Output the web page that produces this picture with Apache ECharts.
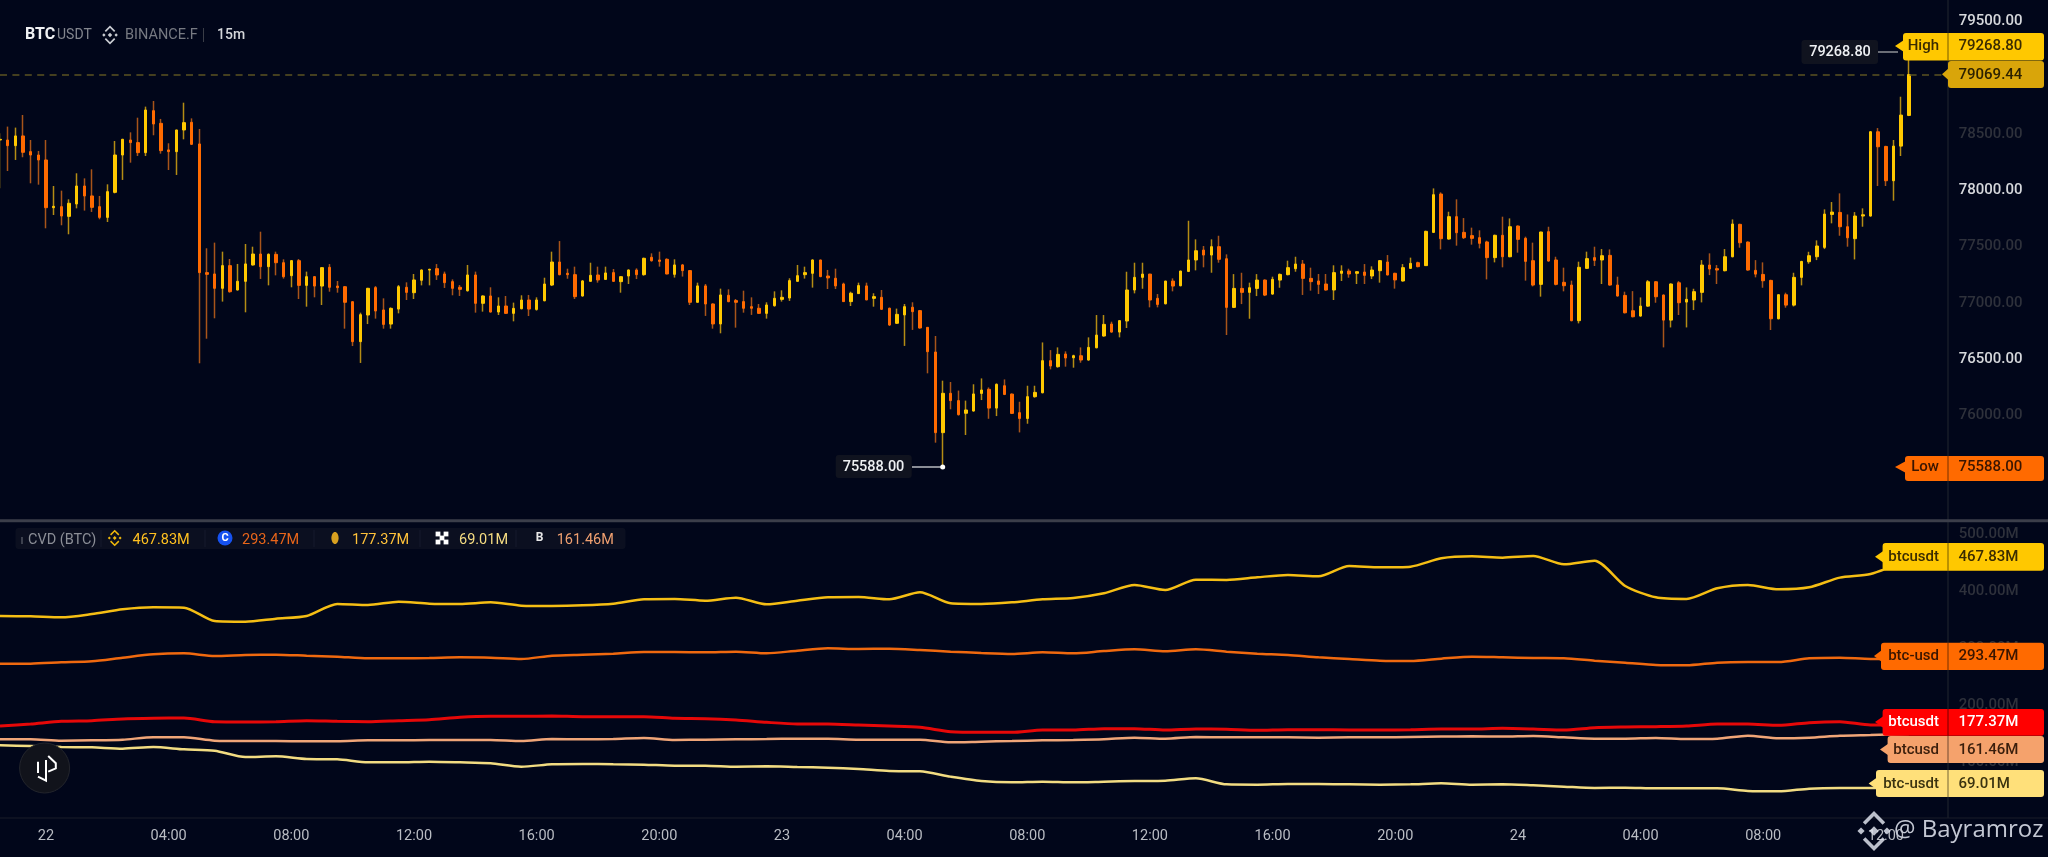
<!DOCTYPE html>
<html><head><meta charset="utf-8">
<style>html,body{margin:0;padding:0;background:#01061a}#c{width:2048px;height:857px}</style>
<script src="https://cdn.jsdelivr.net/npm/echarts@6/dist/echarts.min.js"></script>
</head><body><div id="c"></div>
<script>
const opens=[
78489,78489,78439,78525,78386,78356,78312,77889,77898,77812,
77922,78081,77993,77898,77803,78025,78356,78489,78466,78377,
78749,78637,78401,78386,78578,78646,78454,77313,77301,77174,
77375,77159,77236,77381,77478,77366,77475,77401,77286,77419,
77200,77277,77194,77360,77194,77188,77055,76701,76937,77180,
76982,76857,76990,77183,77135,77245,77336,77348,77301,77233,
77183,77153,77292,77041,77106,76964,77017,76952,76993,77070,
76987,77064,77203,77407,77307,77295,77106,77236,77292,77253,
77313,77233,77283,77336,77295,77449,77425,77431,77298,77381,
77331,77050,77195,77035,76858,77112,77065,77056,77011,76997,
76952,77020,77076,77088,77236,77295,77307,77425,77283,77263,
77212,77056,77127,77195,77085,77094,76997,76864,76938,77006,
76976,76828,76609,75894,76243,76178,76066,76086,76242,76278,
76112,76310,76236,76071,76020,76213,76248,76532,76479,76591,
76558,76576,76538,76647,76751,76857,76786,76884,77159,77271,
77300,77085,77037,77238,77197,77324,77425,77513,77469,77543,
77436,77005,77173,77138,77173,77247,77123,77247,77295,77348,
77389,77262,77239,77212,77159,77307,77327,77307,77318,77283,
77330,77407,77307,77239,77351,77401,77375,77670,78010,77611,
77809,77670,77641,77623,77585,77446,77644,77454,77726,77617,
77419,77209,77676,77425,77227,77203,76887,77351,77446,77425,
77466,77203,77111,76975,76928,77016,77232,77114,76892,77223,
77052,77070,77138,77380,77348,77330,77454,77741,77584,77333,
77297,77244,76904,77117,77025,77271,77410,77454,77537,77829,
77847,77720,77614,77815,77815,78562,78432,78128,78435,78707];
const closes=[
78495,78439,78525,78380,78356,78312,77889,77901,77815,77928,
78081,77993,77892,77803,78031,78356,78495,78466,78377,78755,
78631,78395,78386,78578,78643,78451,77313,77298,77174,77375,
77144,77236,77390,77478,77366,77475,77401,77277,77419,77200,
77277,77194,77357,77183,77180,77050,76701,76940,77174,76973,
76854,76996,77188,77138,77248,77336,77342,77292,77224,77174,
77165,77292,77041,77106,76964,77017,76952,76996,77070,76990,
77070,77212,77407,77295,77295,77100,77239,77289,77248,77310,
77236,77277,77336,77295,77440,77419,77413,77301,77381,77331,
77050,77195,77035,76858,77115,77056,77050,76997,76997,76952,
77026,77085,77094,77242,77286,77313,77425,77278,77266,77195,
77056,77130,77198,77071,77100,76988,76849,76943,77011,76967,
76822,76612,75894,76243,76178,76054,76095,76237,76272,76112,
76322,76233,76065,76020,76213,76251,76532,76485,76588,76556,
76576,76538,76650,76759,76854,76786,76887,77159,77271,77300,
77070,77031,77238,77194,77327,77425,77507,77469,77543,77431,
77005,77173,77138,77179,77247,77114,77253,77297,77357,77389,
77262,77233,77209,77159,77313,77327,77301,77321,77289,77336,
77419,77292,77248,77357,77395,77366,77679,78004,77614,77809,
77667,77623,77617,77573,77446,77644,77454,77720,77608,77413,
77203,77673,77416,77209,77197,76887,77360,77437,77422,77463,
77203,77106,76957,76922,77016,77232,77099,76892,77212,77046,
77076,77144,77380,77345,77336,77454,77744,77578,77336,77300,
77241,76904,77117,77025,77271,77412,77463,77549,77832,77850,
77720,77622,77815,77826,78562,78429,78128,78435,78710,79069.44];
const lows=[
78061,78214,78312,78336,78105,78093,77706,77824,77733,77653,
77883,77863,77851,77786,77762,78016,78135,78288,78347,78347,
78531,78368,78223,78179,78495,78445,76509,76727,76908,77056,
77135,77155,76961,77375,77257,77200,77289,77260,77183,77079,
77011,77094,77026,77144,77135,76816,76662,76512,76857,76905,
76816,76816,76952,77070,77079,77200,77200,77248,77177,77112,
77106,77144,76958,76967,76958,76937,76946,76881,76987,76928,
76976,77058,77194,77289,77259,77079,77100,77233,77224,77250,
77230,77135,77212,77256,77286,77410,77366,77298,77269,77278,
77026,77048,76929,76816,76775,77050,76825,76958,76938,76946,
76905,77011,77056,77062,77233,77260,77180,77272,77168,77168,
77053,77017,77124,77068,77011,76982,76840,76858,76663,76805,
76816,76420,75805,75588,76101,76045,75873,76080,76183,76017,
76041,76227,76059,75896,75973,76204,76242,76455,76470,76479,
76470,76514,76532,76641,76745,76780,76739,76822,77129,77170,
77005,77005,77031,77147,77191,77318,77333,77360,77312,77401,
76760,76999,77034,76904,77105,77105,77117,77179,77289,77321,
77115,77153,77123,77153,77070,77239,77268,77212,77212,77256,
77224,77289,77171,77233,77345,77360,77372,77664,77519,77605,
77552,77611,77561,77528,77253,77404,77360,77449,77490,77242,
77191,77100,77410,77200,77147,76881,76863,77345,77372,77212,
77197,77100,76951,76916,76922,77010,77046,76650,76827,76937,
76827,76981,77049,77291,77212,77324,77448,77534,77330,77271,
77179,76804,76898,77002,77013,77200,77392,77424,77522,77750,
77640,77543,77430,77720,77809,78081,78081,77951,78347,78701];
const highs=[
78548,78608,78599,78711,78489,78392,78489,78081,78040,77963,
78194,78149,78229,77993,78096,78480,78500,78557,78687,78785,
78835,78676,78460,78580,78820,78681,78587,77529,77579,77499,
77434,77390,77567,77543,77676,77484,77499,77431,77425,77434,
77322,77283,77360,77389,77239,77194,77060,76958,77178,77194,
77085,77005,77203,77227,77301,77342,77348,77389,77322,77253,
77203,77381,77322,77112,77183,77094,77106,77047,77112,77115,
77094,77268,77499,77593,77348,77366,77248,77401,77366,77366,
77345,77280,77342,77351,77446,77484,77499,77440,77431,77390,
77335,77224,77212,77041,77171,77165,77079,77153,77094,77035,
77050,77147,77156,77263,77381,77366,77431,77428,77337,77348,
77224,77144,77224,77224,77130,77159,77003,76994,77035,77050,
76982,76830,76751,76355,76343,76267,76178,76323,76375,76295,
76331,76366,76242,76168,76310,76310,76694,76626,76650,76615,
76585,76650,76739,76937,76937,76878,76892,77321,77401,77401,
77303,77123,77241,77262,77330,77773,77608,77549,77608,77640,
77475,77300,77312,77224,77300,77253,77277,77306,77419,77454,
77425,77357,77301,77301,77378,77378,77348,77325,77389,77369,
77425,77469,77312,77389,77446,77410,77685,78060,78025,77853,
77963,77797,77712,77688,77596,77650,77809,77794,77732,77632,
77579,77676,77720,77454,77357,77242,77410,77499,77543,77522,
77519,77277,77144,77149,77093,77247,77238,77120,77218,77238,
77182,77170,77424,77484,77380,77522,77785,77747,77590,77424,
77404,77250,77120,77135,77312,77418,77498,77599,77874,77939,
78016,77829,77850,77883,78568,78595,78438,78489,78873,79268.8];

const cvdSampleIndex=[0,4,8,12,16,20,24,28,32,36,40,44,48,52,56,60,64,68,72,76,80,84,88,92,96,100,104,108,112,116,120,124,128,132,136,140,144,148,152,156,160,164,168,172,176,180,184,188,192,196,200,204,208,212,216,220,224,228,232,236,240,244,249];
const cvdBtcusdtBinance=[368.4,367.8,366.1,371.9,380.1,383.6,383.1,359.7,358.5,363.8,368.4,389.5,387.7,393.6,390.1,389.5,392.4,386.6,386,387.1,390.1,397.7,398.3,395.3,400.6,388.9,395.3,401.2,401.8,397.7,410,390.7,389.5,392.4,397.7,400,408.2,422.8,414,432.2,431.6,436.3,440.4,438,456.2,453.8,455,469.6,473.1,470.8,473.7,459,465.5,421.1,401.2,398.3,417,422.8,415.2,418.7,435.7,442.1,467.83];
const cvdBtcUsdCoinbase=[284.8,284.8,287.1,288.9,295.3,301.2,302.9,298.3,300,300.6,298.8,297.1,294.2,294.2,294.7,295.9,295.3,293,298.8,300.6,302.4,305.3,305.3,304.7,305.9,302.9,307.6,311.7,310.5,311.1,308.8,305.9,303.5,301.8,304.7,302.9,307,310,306.4,310,305.9,302.4,300,295.9,293,290.1,289.5,293.6,297.1,295.9,294.7,294.2,290.1,286.6,282.5,281.9,286.6,287.7,287.7,294.2,295.3,293,293.47];
const cvdBtcusdtBybit=[175.4,179,183.6,184.8,187.7,188.9,189.5,183,182.5,183,184.8,183.6,183,184.8,186.6,190.7,192.4,192.4,193,191.8,191.8,191.8,188.9,188.3,186,181.9,179,179,177.2,175.4,173.1,165.5,164.3,164.3,168.4,168.4,170.8,170.8,168.4,170.2,169.6,167.8,169,169,168.4,168.4,169,170.2,170.2,171.4,170.2,168.4,172.5,173.7,174.3,175.4,179,179,176.6,181.3,183,177.2,177.37];
const cvdBtcusdBitfinex=[152.1,152.1,149.7,150.3,151.5,155.6,155.6,149.7,149.1,149.1,148.6,148.6,150.3,150.3,150.9,150.9,150.9,149.1,152.6,152.1,152.6,154.4,150.9,151.5,152.1,152.6,153.2,153.2,151.5,151.5,151.5,146.8,148,149.1,150.3,150.9,152.1,155,153.2,156.2,155.6,155.6,155.6,155,155.6,155.6,156.2,156.8,157.3,156.8,157.9,155.6,153.2,153.2,154.4,152.6,153.2,158.5,153.8,155,158.5,159.7,161.46];
const cvdBtcUsdtOkx=[141.5,140.4,138.6,138,135.7,138.6,134.5,132.2,121,122.2,117.5,117,111.7,111.7,112.9,111.7,110,104.1,108.2,108.8,108.2,107.6,105.9,105.9,104.1,104.7,103.5,102.4,100,96.5,95.9,86.6,79,76.6,77.8,76.6,77.8,79,79.5,83.6,73.1,72.5,73.7,73.7,73.1,72.5,73.1,74.9,72.5,73.1,71.3,69,66.7,67.3,66.1,66.1,66.1,61.4,60.8,65.5,66.7,66.7,69.01];

const timeTickIndex=[6,22,38,54,70,86,102,118,134,150,166,182,198,214,230,246];
const timeTickLabels=['22','04:00','08:00','12:00','16:00','20:00','23','04:00','08:00','12:00','16:00','20:00','24','04:00','08:00','12:00'];
const priceBrightTicks=[79500,78000,76500];
const lastPrice=79069.44;

const SLOTS=255;
const categories=Array.from({length:SLOTS},(_,i)=>String(i));
const pairs=v=>cvdSampleIndex.map((x,i)=>[x,v[i]]);
const wickData=opens.map((o,i)=>[o,closes[i],lows[i],highs[i]]);
const bodyData=opens.map((o,i)=>[o,closes[i],Math.min(o,closes[i]),Math.max(o,closes[i])]);

const UP='#FFC800',DOWN='#FF6A00',F='Roboto, sans-serif',BG='#01061a';
const g=[];
const Z=100;
function text(t,x,y,fill,size,weight,align,fam){g.push({type:'text',z:Z+3,silent:true,style:{text:t,x,y,fill,font:`${weight||400} ${size}px ${fam||F}`,align:align||'left',verticalAlign:'middle'}});}
function rect(x,y,w,h,fill,r){g.push({type:'rect',z:Z,silent:true,shape:{x,y,width:w,height:h,r:r||0},style:{fill}});}
function line(x1,y1,x2,y2,stroke,w,z){g.push({type:'line',z:z==null?Z:z,silent:true,shape:{x1,y1,x2,y2},style:{stroke,lineWidth:w||1}});}
function poly(points,style,closed){g.push({type:closed?'polygon':'polyline',z:Z+2,silent:true,shape:{points},style});}
function tag(x,tipX,yTop,yBot,tipY,fill,name,nameRight,val,txt){
  rect(x,yTop,2044-x,yBot-yTop,fill,3);
  poly([[x+1,tipY-6],[tipX,tipY],[x+1,tipY+6]],{fill},true);
  line(1948,yTop,1948,yBot,'rgba(0,0,0,0.55)',1,Z+1);
  text(name,nameRight,tipY+0.7,txt,15,500,'right');
  text(val,1958.5,tipY+0.7,txt,15,500,'left');
}
function binance(cx,cy,s,color){
  const d=(x,y,r)=>poly([[cx+x*s,cy+(y-r)*s],[cx+(x+r)*s,cy+y*s],[cx+x*s,cy+(y+r)*s],[cx+(x-r)*s,cy+y*s]],{fill:color},true);
  d(0,0,.26);d(-.72,0,.2);d(.72,0,.2);
  poly([[cx-.55*s,cy-.42*s],[cx,cy-.97*s],[cx+.55*s,cy-.42*s]],{stroke:color,fill:'none',lineWidth:Math.max(1.5,s*.2)});
  poly([[cx-.55*s,cy+.42*s],[cx,cy+.97*s],[cx+.55*s,cy+.42*s]],{stroke:color,fill:'none',lineWidth:Math.max(1.5,s*.2)});
}
// panel chrome
line(1948,0,1948,818,'#23262f',1,2);
line(0,520.7,2048,520.7,'#3b3e4a',3,2);
line(0,818,2048,818,'#1a1d29',1,2);
// header
text('BTC',25,35,'#f0f1f3',16,700);
text('USDT',57,35,'#83868e',14,400);
binance(110,35,8.5,'#c9ccd2');
text('BINANCE.F',125,35,'#777a82',14.5,400);
line(203.5,28,203.5,42,'#3a3d47',1);
text('15m',217,35,'#d4d6da',14,500);
// legend row
rect(15.5,528,610,21,'#0b0f20',3);
[101,205,314,420,516].forEach(x=>line(x,530,x,547,'#171b2c',1,Z+1));
line(22,537,22,544,'#71747c',1,Z+1);
text('CVD (BTC)',28,540.7,'#8b8e96',14.5);
binance(114.7,538,7.5,'#F0B90B');
text('467.83M',132.5,540.7,'#FFC020',14.5);
g.push({type:'circle',z:Z+2,silent:true,shape:{cx:225,cy:538,r:7.5},style:{fill:'#1652F0'}});
text('C',225,538,'#ffffff',11,700,'center');
text('293.47M',242,540.7,'#E8651A',14.5);
g.push({type:'ellipse',z:Z+2,silent:true,shape:{cx:335,cy:538,rx:3.6,ry:6},style:{fill:'#D8A020'}});
text('177.37M',352,540.7,'#FFC23A',14.5);
[[-4,-4],[4,-4],[0,0],[-4,4],[4,4]].forEach(([a,b])=>{rect(442+a-2.4,538+b-2.4,4.8,4.8,'#ffffff');g[g.length-1].z=Z+2;});
text('69.01M',459,540.7,'#F5DC82',14.5);
text('B',539.7,538,'#e8e8e8',12,700,'center');
text('161.46M',556.7,540.7,'#F0A070',14.5);
// price callouts
rect(1801.5,40,76.5,24,'#10131f',3);
text('79268.80',1840,52.5,'#eef0f3',14.5,500,'center');
line(1878,52,1898,52,'#8e9096',1.5);
rect(835.7,455,76,23,'#10131f',3);
text('75588.00',873.5,467.5,'#eef0f3',14.5,500,'center');
line(912,467,942,467,'#b9bbc0',1.5);
g.push({type:'circle',z:Z+2,silent:true,shape:{cx:942.7,cy:467,r:2.5},style:{fill:'#ffffff'}});
// price tags
tag(1903,1895,33,60.5,46,'#FFC800','High',1939,'79268.80','#3a2b00');
rect(1948,61,96,27,'#D9A50A',3);
poly([[1949,68],[1942,74.3],[1949,80.6]],{fill:'#D9A50A'},true);
text('79069.44',1958.5,74.8,'#2d2200',15,500);
tag(1905,1895,456,481,467,'#FF6A00','Low',1939,'75588.00','#3a1500');
// cvd tags
tag(1882.6,1875,543,570.7,556.7,'#FFC800','btcusdt',1939,'467.83M','#3a2b00');
tag(1881,1874,642.7,670,656,'#FF6A00','btc-usd',1939,'293.47M','#3a1500');
tag(1882.6,1875,709,735.7,722,'#FF0000','btcusdt',1939,'177.37M','#ffffff');
tag(1887.6,1880,736,763,749.5,'#F5A26C','btcusd',1939,'161.46M','#3a1e0c');
tag(1876,1868.6,770,797,783.5,'#FFE07A','btc-usdt',1939,'69.01M','#3a3210');
// round logo
g.push({type:'circle',z:Z,silent:true,shape:{cx:44.6,cy:768,r:25},style:{fill:'#11131b',stroke:'#23252c',lineWidth:1}});
poly([[48.2,756],[55.8,763.3],[55.8,768.3],[48.2,771.7]],{stroke:'#fff',fill:'none',lineWidth:2});
poly([[46,760],[46,780.7],[38,776.7]],{stroke:'#fff',fill:'none',lineWidth:2});
poly([[38,761.7],[38,773]],{stroke:'#fff',fill:'none',lineWidth:2});
// watermark
binance(1874,831,18,'rgba(220,224,235,0.85)');
text('@ Bayramroz',1894,830,'#c3c7d3',24,400,'left','"Open Sans", sans-serif');

const chart=echarts.init(document.getElementById('c'),null,{renderer:'canvas'});
const xBase={type:'category',data:categories,boundaryGap:false,axisLine:{show:false},axisTick:{show:false},splitLine:{show:false}};
const lineSeries=(name,data,color,w,z)=>({name,type:'line',xAxisIndex:1,yAxisIndex:1,data:pairs(data),showSymbol:false,symbol:'none',smooth:0.25,z,lineStyle:{color,width:w},animation:false,silent:true});
chart.setOption({
  backgroundColor:BG,animation:false,
  grid:[{left:0,right:100.8,top:26,height:451.08},{left:0,right:100.8,top:541,height:285}],
  xAxis:[
    Object.assign({},xBase,{gridIndex:0,axisLabel:{show:false}}),
    Object.assign({},xBase,{gridIndex:1,axisLabel:{show:true,interval:i=>timeTickIndex.includes(i),
      formatter:v=>timeTickLabels[timeTickIndex.indexOf(+v)]||'',color:'#b9bcc3',fontFamily:F,fontSize:14.5,margin:3}})
  ],
  yAxis:[
    {type:'value',gridIndex:0,position:'right',min:75500,max:79500,interval:500,scale:true,splitLine:{show:false},axisLine:{show:false},axisTick:{show:false},
      axisLabel:{margin:11.5,fontFamily:F,fontSize:15,fontWeight:500,verticalAlign:'bottom',lineHeight:10,formatter:v=>v.toFixed(2),
        color:v=>priceBrightTicks.includes(+v)?'#d6d8dc':'#2e313b'}},
    {type:'value',gridIndex:1,position:'right',min:0,max:500,interval:100,splitLine:{show:false},axisLine:{show:false},axisTick:{show:false},
      axisLabel:{margin:11.5,fontFamily:F,fontSize:15,fontWeight:500,verticalAlign:'bottom',lineHeight:14,formatter:v=>v===0?'':v.toFixed(2)+'M',color:'#2e313b'}}
  ],
  series:[
    {name:'wicks',type:'candlestick',xAxisIndex:0,yAxisIndex:0,data:wickData,barWidth:1,silent:true,z:2,
      itemStyle:{color:'#B48C14',color0:'#A8541A',borderColor:'#B48C14',borderColor0:'#A8541A',borderWidth:1.5},
      markLine:{silent:true,symbol:'none',animation:false,label:{show:false},lineStyle:{color:'#5b5322',type:[7,5.4],width:1.5},data:[{yAxis:lastPrice}]}},
    {name:'bodies',type:'candlestick',xAxisIndex:0,yAxisIndex:0,data:bodyData,barWidth:3,silent:true,z:3,
      itemStyle:{color:UP,color0:DOWN,borderColor:UP,borderColor0:DOWN,borderWidth:1}},
    lineSeries('btc-usdt',cvdBtcUsdtOkx,'#F2DC82',2.5,3),
    lineSeries('btcusd',cvdBtcusdBitfinex,'#F0A578',2.5,4),
    lineSeries('btcusdt-2',cvdBtcusdtBybit,'#E60808',3,5),
    lineSeries('btc-usd',cvdBtcUsdCoinbase,'#F0690F',2.5,6),
    lineSeries('btcusdt',cvdBtcusdtBinance,'#F5BE14',2.5,7)
  ],
  graphic:{elements:g}
});
</script></body></html>
